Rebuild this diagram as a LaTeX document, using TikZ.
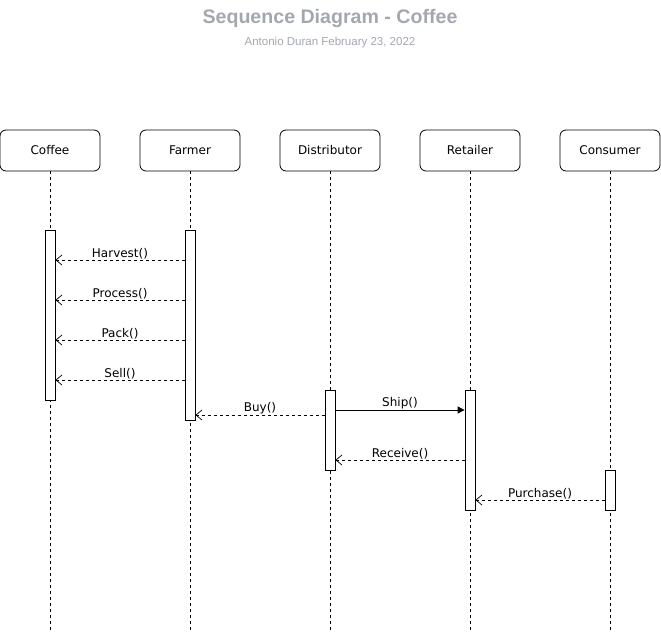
\documentclass[tikz,border=0pt]{standalone}
\usepackage{fontspec}
\setmainfont{DejaVu Sans}
\newfontfamily\titlefont{Liberation Sans}
\usetikzlibrary{arrows.meta}
\definecolor{titlegray}{HTML}{A3A7AF}
\begin{document}
\begin{tikzpicture}[x=1pt,y=-1pt,
  actor/.style={draw,rounded corners=6pt,minimum width=100pt,minimum height=41pt,inner sep=0pt,font=\fontsize{12}{14}\selectfont,line width=0.8pt},
  act/.style={draw,fill=white,line width=0.8pt},
  life/.style={dash pattern=on 3pt off 3pt,line width=0.7pt},
  reply/.style={dash pattern=on 3pt off 3pt,line width=0.7pt,-{Straight Barb[length=6pt,width=10pt,line width=0.7pt]}},
  call/.style={line width=0.8pt,-{Triangle[length=7pt,width=7pt]}},
  lbl/.style={font=\fontsize{12}{14}\selectfont,inner sep=1pt,above}]
\useasboundingbox (0,0) rectangle (661,632);
\node[font=\titlefont\bfseries\fontsize{19.6}{22}\selectfont,text=titlegray] (title) at (330,18) {Sequence Diagram - Coffee};
\node[font=\titlefont\fontsize{11.5}{13}\selectfont,text=titlegray] (sub) at (330,43) {Antonio Duran February 23, 2022};
\foreach \n/\t/\x in {coffee/Coffee/50,farmer/Farmer/190,dist/Distributor/330,ret/Retailer/470,cons/Consumer/610}{
  \node[actor] (\n) at (\x,150.5) {\t};
  \coordinate (\n-end) at (\x,632);
  \draw[life] (\n.south) -- (\n-end);
}
% activations
\node[act,minimum width=10pt,minimum height=170pt,inner sep=0pt] (acoffee) at (50,315) {};
\node[act,minimum width=10pt,minimum height=190pt,inner sep=0pt] (afarmer) at (190,325) {};
\node[act,minimum width=10pt,minimum height=80pt,inner sep=0pt] (adist) at (330,430) {};
\node[act,minimum width=10pt,minimum height=120pt,inner sep=0pt] (aret) at (470,450) {};
\node[act,minimum width=10pt,minimum height=40pt,inner sep=0pt] (acons) at (610,490) {};
% messages
\foreach \y/\t in {260/Harvest(),300/Process(),340/Pack(),380/Sell()}{
  \draw[reply] (afarmer.west |- 0,\y) -- node[lbl]{\t} (acoffee.east |- 0,\y);
}
\draw[reply] (adist.west |- 0,415) -- node[lbl]{Buy()} (afarmer.east |- 0,415);
\draw[call] (adist.east |- 0,410) -- node[lbl]{Ship()} (aret.west |- 0,410);
\draw[reply] (aret.west |- 0,460) -- node[lbl]{Receive()} (adist.east |- 0,460);
\draw[reply] (acons.west |- 0,500) -- node[lbl]{Purchase()} (aret.east |- 0,500);
\end{tikzpicture}
\end{document}
